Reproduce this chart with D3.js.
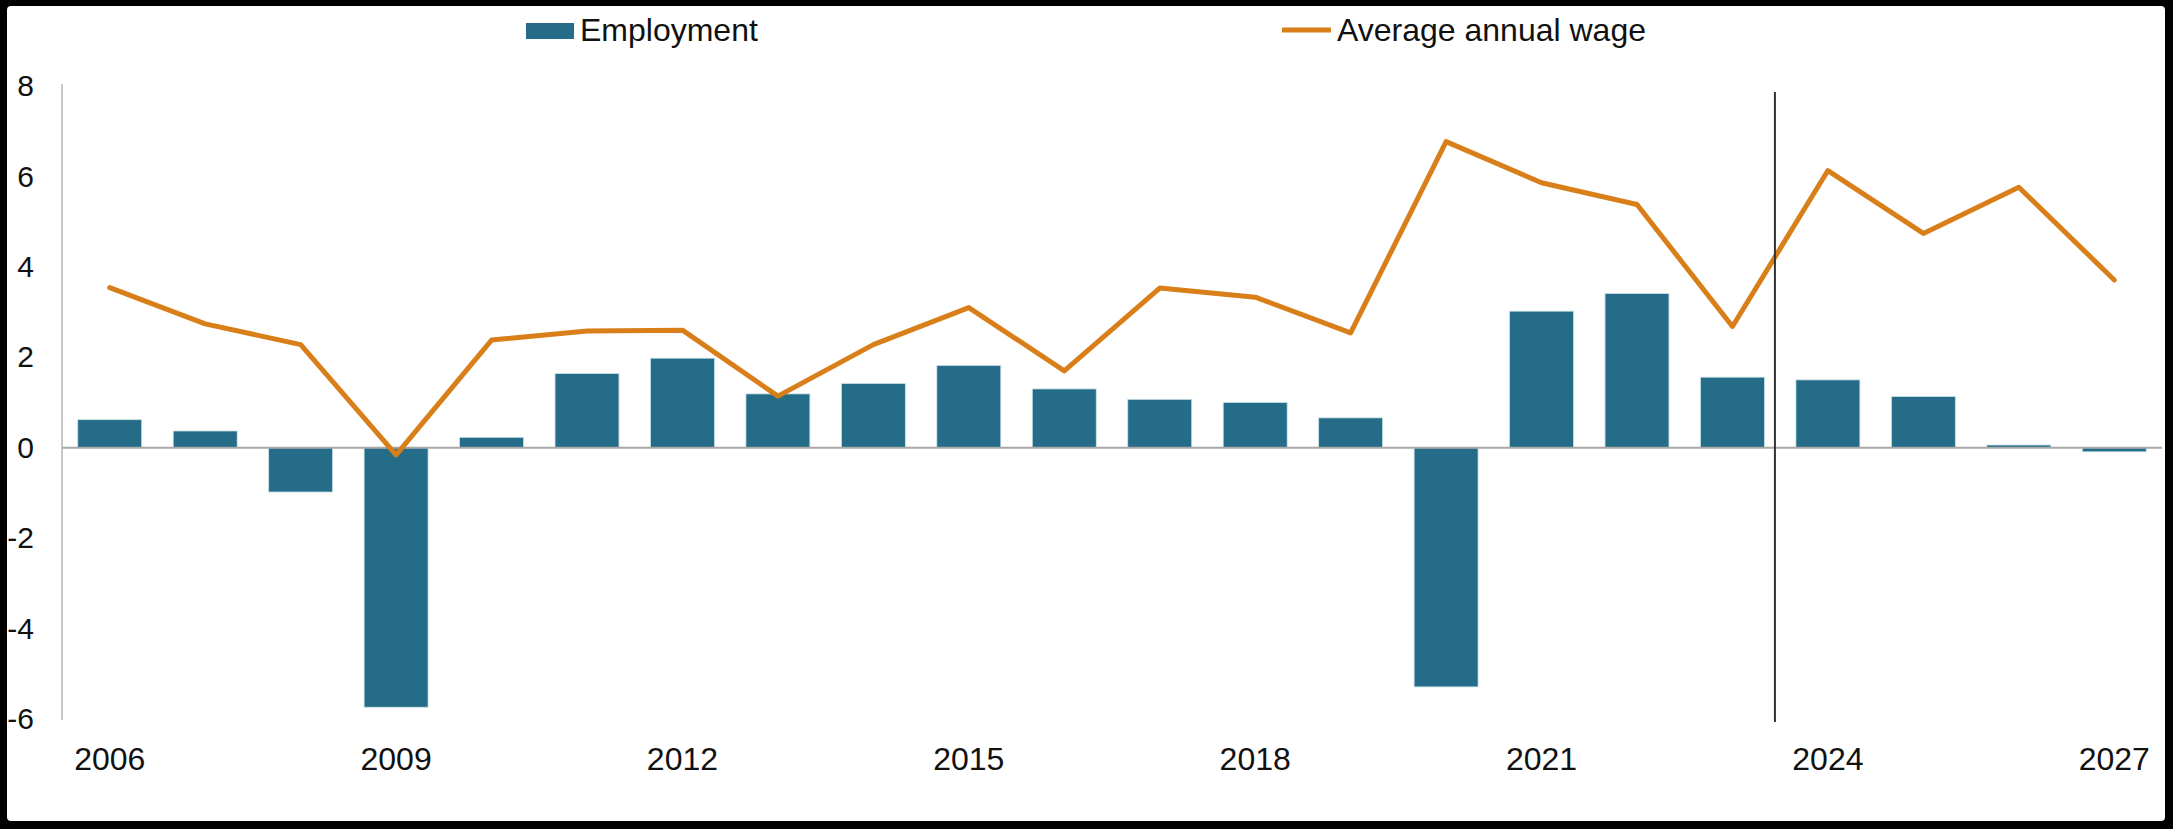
<!DOCTYPE html>
<html>
<head>
<meta charset="utf-8">
<script src="https://cdn.jsdelivr.net/npm/d3@7"></script>
<style>
  html, body { margin: 0; padding: 0; background: #000; }
  svg { display: block; font-family: "Liberation Sans", Arial, sans-serif; }
</style>
</head>
<body>
<div class="canvas"></div>
<script>
// data
const years = ['2006', '2007', '2008', '2009', '2010', '2011', '2012', '2013', '2014', '2015', '2016',
    '2017', '2018', '2019', '2020', '2021', '2022', '2023', '2024', '2025', '2026', '2027'];
const employment = [0.62, 0.37, -0.98, -5.74, 0.23, 1.64, 1.98, 1.19, 1.42, 1.82, 1.30,
    1.07, 1.00, 0.66, -5.29, 3.02, 3.41, 1.56, 1.50, 1.13, 0.06, -0.09];
const wage = [3.54, 2.74, 2.28, -0.16, 2.38, 2.58, 2.60, 1.14, 2.28, 3.10, 1.70,
    3.53, 3.33, 2.54, 6.77, 5.86, 5.38, 2.68, 6.13, 4.74, 5.76, 3.71];
const yTicks = [-6, -4, -2, 0, 2, 4, 6, 8];
const xTickYears = ['2006', '2009', '2012', '2015', '2018', '2021', '2024', '2027'];
const forecastStart = '2024';

const dim = { width: 2173, height: 829 };
const plot = { left: 62, right: 2162, top: 86, bottom: 719 };

const svg = d3.select('.canvas').append('svg')
    .attr('width', dim.width)
    .attr('height', dim.height);

// white card inside the black frame
svg.append('rect')
    .attr('x', 7).attr('y', 6)
    .attr('width', 2158).attr('height', 815)
    .attr('rx', 4)
    .attr('fill', '#fff');

const x = d3.scaleBand()
    .domain(years)
    .range([plot.left, plot.right])
    .paddingInner(0.33)
    .paddingOuter(0.165);

const y = d3.scaleLinear()
    .domain([-6, 8])
    .range([plot.bottom, plot.top]);

// y axis line
svg.append('line')
    .attr('x1', plot.left).attr('x2', plot.left)
    .attr('y1', y(8) - 2).attr('y2', y(-6) + 1)
    .attr('stroke', '#c8c8c8')
    .attr('stroke-width', 2);

// y tick labels
const yAxis = d3.axisLeft(y)
    .tickValues(yTicks)
    .tickSize(0)
    .tickPadding(0)
    .tickFormat(d => String(d));

svg.append('g')
    .attr('transform', 'translate(34, 0)')
    .call(yAxis)
    .call(g => g.select('.domain').remove())
    .selectAll('text')
    .attr('font-size', 30)
    .attr('font-family', '"Liberation Sans", Arial, sans-serif')
    .attr('fill', '#111');

// bars
svg.append('g').selectAll('rect')
    .data(employment)
    .enter().append('rect')
    .attr('x', (d, i) => x(years[i]))
    .attr('width', x.bandwidth())
    .attr('y', d => y(Math.max(0, d)))
    .attr('height', d => Math.abs(y(d) - y(0)))
    .attr('fill', '#246c87')
    .attr('stroke', '#c9e0e8')
    .attr('stroke-width', 0.8);

// zero line
svg.append('line')
    .attr('x1', plot.left).attr('x2', plot.right)
    .attr('y1', y(0)).attr('y2', y(0))
    .attr('stroke', '#a8a8a8')
    .attr('stroke-width', 2);

// wage line
const line = d3.line()
    .x((d, i) => x(years[i]) + x.bandwidth() / 2)
    .y(d => y(d));

svg.append('path')
    .datum(wage)
    .attr('d', line)
    .attr('fill', 'none')
    .attr('stroke', '#d97f1a')
    .attr('stroke-width', 5)
    .attr('stroke-linejoin', 'round')
    .attr('stroke-linecap', 'round');

// forecast divider
const divX = x(forecastStart) - x.step() * 0.22;
svg.append('line')
    .attr('x1', divX).attr('x2', divX)
    .attr('y1', y(8) + 6).attr('y2', y(-6) + 3)
    .attr('stroke', '#333')
    .attr('stroke-width', 2);

// x tick labels
const xAxis = d3.axisBottom(x)
    .tickValues(xTickYears)
    .tickSize(0)
    .tickPadding(0);

svg.append('g')
    .attr('transform', 'translate(0, 770)')
    .call(xAxis)
    .call(g => g.select('.domain').remove())
    .selectAll('text')
    .attr('dy', 0)
    .attr('font-size', 32)
    .attr('font-family', '"Liberation Sans", Arial, sans-serif')
    .attr('fill', '#111');

// legend
const legend = svg.append('g').attr('font-size', 32).attr('fill', '#111');

legend.append('rect')
    .attr('x', 526).attr('y', 23)
    .attr('width', 48).attr('height', 16)
    .attr('fill', '#246c87');
legend.append('text')
    .attr('x', 580).attr('y', 41)
    .text('Employment');

legend.append('line')
    .attr('x1', 1282).attr('x2', 1331)
    .attr('y1', 30).attr('y2', 30)
    .attr('stroke', '#d97f1a')
    .attr('stroke-width', 5);
legend.append('text')
    .attr('x', 1337).attr('y', 41)
    .text('Average annual wage');
</script>
</body>
</html>
